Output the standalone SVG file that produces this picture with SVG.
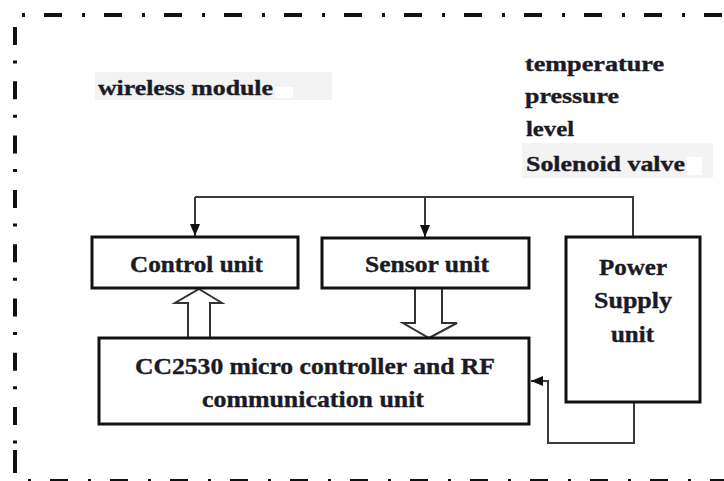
<svg xmlns="http://www.w3.org/2000/svg" width="724" height="481" viewBox="0 0 724 481">
<style>
  .border { stroke: #111; stroke-width: 4; fill: none; }
  .box { fill: #fff; stroke: #111; stroke-width: 3; }
  .conn { fill: none; stroke: #3a3a3a; stroke-width: 2; }
  .hollow { fill: #fff; stroke: #333; stroke-width: 2; stroke-linejoin: miter; }
  .t { font-family: "Liberation Serif", "Times New Roman", serif; font-weight: bold; fill: #1b1b26; stroke: #1b1b26; stroke-width: 0.35; }
  .bt { font-size: 22.5px; }
  .lt { font-size: 20.5px; }
  .bg { fill: #f3f3f3; }
</style>
<defs>
  <marker id="ah" viewBox="0 0 12 10" refX="12" refY="5" markerWidth="12" markerHeight="10" markerUnits="userSpaceOnUse" orient="auto">
    <path d="M0,0 L12,5 L0,10 z" fill="#111"/>
  </marker>
</defs>
<rect width="724" height="481" fill="#fff"/>

<g id="frame">
  <line class="border" x1="22" y1="15" x2="724" y2="15" stroke-dasharray="3 19 18 20"/>
  <line class="border" x1="15" y1="27" x2="15" y2="444" stroke-dasharray="18 15.5 3 17.8"/>
  <line class="border" x1="15" y1="450" x2="15" y2="473"/>
  <line class="border" x1="28" y1="481" x2="724" y2="481" stroke-dasharray="3 19 18 20" stroke-width="5"/>
</g>

<g id="labels">
  <rect class="bg" x="95" y="72" width="237" height="28"/>
  <rect x="275" y="87" width="18" height="11" fill="#fff"/>
  <text class="t lt" transform="scale(1.28,1)" x="76.56" y="95" textLength="136.72" lengthAdjust="spacingAndGlyphs">wireless module</text>
  <text class="t lt" transform="scale(1.28,1)" x="410.16" y="71" textLength="108.59" lengthAdjust="spacingAndGlyphs">temperature</text>
  <text class="t lt" transform="scale(1.28,1)" x="410.16" y="103.5" textLength="73.44" lengthAdjust="spacingAndGlyphs">pressure</text>
  <text class="t lt" transform="scale(1.28,1)" x="410.94" y="136" textLength="37.5" lengthAdjust="spacingAndGlyphs">level</text>
  <rect class="bg" x="522" y="143" width="191" height="35"/>
  <rect x="687" y="157" width="15" height="18" fill="#fff"/>
  <text class="t lt" transform="scale(1.28,1)" x="410.94" y="171" textLength="124.22" lengthAdjust="spacingAndGlyphs">Solenoid valve</text>
</g>

<g id="connectors">
  <polyline class="conn" points="195,197 633,197 633,237"/>
  <line class="conn" x1="195" y1="197" x2="195" y2="236" marker-end="url(#ah)"/>
  <line class="conn" x1="425" y1="197" x2="425" y2="237" marker-end="url(#ah)"/>
  <polyline class="conn" points="634,402 634,443 548,443 548,381 531,381" marker-end="url(#ah)"/>
  <polygon class="hollow" points="199,289 222,303 210,303 210,338 188,338 188,303 175,303"/>
  <polygon class="hollow" points="415,288 442,288 442,323 457,323 429,338 403,323 415,323"/>
</g>

<g id="control-unit">
  <rect class="box" x="92" y="237" width="206" height="51"/>
  <text class="t bt" transform="scale(1.18,1)" x="110.17" y="272" textLength="112.7" lengthAdjust="spacingAndGlyphs">Control unit</text>
</g>

<g id="sensor-unit">
  <rect class="box" x="322" y="238" width="207" height="50"/>
  <text class="t bt" transform="scale(1.18,1)" x="309.32" y="272" textLength="105.08" lengthAdjust="spacingAndGlyphs">Sensor unit</text>
</g>

<g id="power-supply-unit">
  <rect class="box" x="566" y="237" width="134" height="165"/>
  <text class="t bt" transform="scale(1.18,1)" x="507.63" y="275" textLength="57.63" lengthAdjust="spacingAndGlyphs">Power</text>
  <text class="t bt" transform="scale(1.18,1)" x="503.39" y="308" textLength="66.1" lengthAdjust="spacingAndGlyphs">Supply</text>
  <text class="t bt" transform="scale(1.18,1)" x="517.8" y="342" textLength="36.44" lengthAdjust="spacingAndGlyphs">unit</text>
</g>

<g id="cc2530-unit">
  <rect class="box" x="99" y="338" width="430" height="86"/>
  <text class="t bt" transform="scale(1.18,1)" x="114.41" y="374" textLength="305.08" lengthAdjust="spacingAndGlyphs">CC2530 micro controller and RF</text>
  <text class="t bt" transform="scale(1.18,1)" x="171.19" y="407" textLength="188.14" lengthAdjust="spacingAndGlyphs">communication unit</text>
</g>
</svg>
